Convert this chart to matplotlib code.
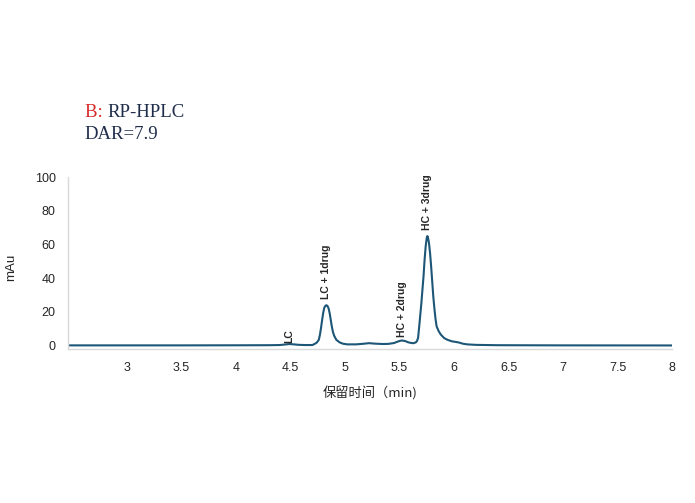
import matplotlib
matplotlib.use("Agg")
import matplotlib.pyplot as plt

# chromatogram trace (time in min, signal in mAu)
time = [2.46, 3.0, 3.5, 4.0, 4.3, 4.40, 4.45, 4.49, 4.53, 4.58, 4.64, 4.70,
        4.72, 4.74, 4.75, 4.76, 4.77, 4.78, 4.79, 4.80, 4.81, 4.82, 4.83, 4.84,
        4.85, 4.86, 4.87, 4.88, 4.89, 4.90, 4.92, 4.95, 4.98, 5.02, 5.10, 5.16,
        5.22, 5.28, 5.35, 5.40, 5.45, 5.49, 5.52, 5.55, 5.58, 5.61, 5.63, 5.65,
        5.66, 5.67, 5.68, 5.69, 5.70, 5.71, 5.72, 5.73, 5.74, 5.75, 5.755, 5.76,
        5.77, 5.78, 5.79, 5.80, 5.81, 5.82, 5.83, 5.84, 5.86, 5.88, 5.91, 5.94,
        5.98, 6.02, 6.05, 6.08, 6.12, 6.20, 6.40, 7.00, 8.00]
signal = [0.2, 0.2, 0.2, 0.25, 0.3, 0.4, 0.7, 1.0, 0.8, 0.5, 0.4, 0.4,
          1.0, 1.8, 2.6, 3.6, 6.5, 10.6, 15.2, 19.5, 22.5, 23.7, 24.0, 23.5,
          22.0, 19.0, 15.0, 11.0, 8.0, 6.0, 3.5, 2.0, 1.2, 0.8, 0.8, 1.1,
          1.5, 1.2, 1.0, 1.1, 1.6, 2.6, 3.1, 2.8, 2.0, 1.6, 1.5, 2.0,
          2.8, 4.5, 11.0, 18.0, 25.0, 33.0, 41.0, 51.0, 59.0, 64.0, 65.0, 64.5,
          61.0, 55.0, 47.0, 38.0, 29.0, 22.0, 16.0, 11.5, 8.5, 6.5, 4.5, 3.5,
          2.6, 2.2, 1.8, 1.2, 0.8, 0.5, 0.3, 0.2, 0.15]

peak_names = ["LC", "LC + 1drug", "HC + 2drug", "HC + 3drug"]
peak_times = [4.49, 4.83, 5.52, 5.755]
peak_heights = [1.0, 24.0, 3.1, 65.0]

xticks = [3, 3.5, 4, 4.5, 5, 5.5, 6, 6.5, 7, 7.5, 8]
yticks = [0, 20, 40, 60, 80, 100]

LINE = "#1d5677"
GRAY = "#d9d9d9"
TXT = "#262626"
SANS = ["Liberation Sans", "DejaVu Sans"]
SERIF = "Liberation Serif"

fig = plt.figure(figsize=(6.95, 5.03), dpi=100)
ax = fig.add_axes([0.098, 0.306, 0.869, 0.342])

ax.plot(time, signal, color=LINE, lw=1.5, solid_joinstyle="round")
ax.set_xlim(2.46, 8.0)
ax.set_ylim(-2, 100)
ax.set_xticks(xticks)
ax.set_xticklabels([f"{t:g}" for t in xticks], family=SANS)
ax.set_yticks(yticks)
ax.set_yticklabels([str(v) for v in yticks], family=SANS)
ax.tick_params(length=0, labelsize=9, colors=TXT, pad=9)
for s in ("top", "right"):
    ax.spines[s].set_visible(False)
for s in ("left", "bottom"):
    ax.spines[s].set_color(GRAY)
    ax.spines[s].set_linewidth(1.0)

offsets = [1.0, 4.5, 2.5, 4.5]
for name, t, h, off in zip(peak_names, peak_times, peak_heights, offsets):
    ax.annotate(name, (t, h), xytext=(0, off), textcoords="offset points",
                rotation=90, ha="center", va="bottom", fontsize=7.5,
                fontweight="bold", color=TXT, family=SANS)

ax.set_ylabel("mAu", fontsize=9.5, color=TXT, family=SANS)
ax.yaxis.set_label_coords(-0.084, 0.474)
ax.set_xlabel("保留时间（min)", fontsize=9.5, color=TXT, labelpad=9,
              family=["Noto Sans CJK SC", "DejaVu Sans"])

b = fig.text(0.122, 0.777, "B: ", color="#d62a2a", fontsize=13.5,
             family=SERIF, va="center")
ax.annotate("RP-HPLC", xy=(1, 0.5), xycoords=b, va="center",
            color="#1f2d4a", fontsize=13.5, family=SERIF,
            annotation_clip=False)
fig.text(0.122, 0.733, "DAR=7.9", color="#1f2d4a", fontsize=13.5,
         family=SERIF, va="center")

fig.savefig("out.png", dpi=100)
